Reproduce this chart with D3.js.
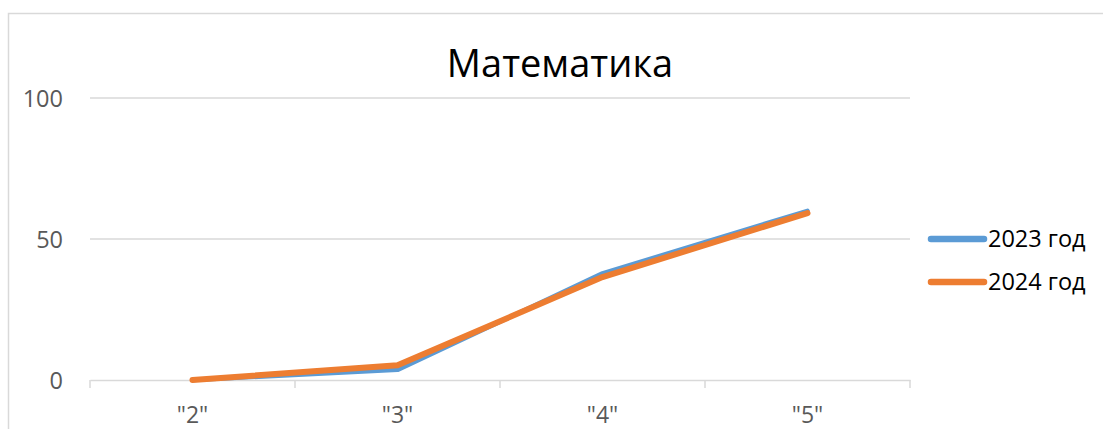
<!DOCTYPE html>
<html>
<head>
  <meta charset="UTF-8">
  <title>Математика</title>
  <script src="https://d3js.org/d3.v7.min.js"></script>
  <style>
    body { margin: 0; background: #fff; }
    svg { display: block; font-family: "Open Sans", "Noto Sans", sans-serif; }
  </style>
</head>
<body>
  <svg></svg>
<script>
  // data
  let categories = ['"2"', '"3"', '"4"', '"5"'];
  let series2023 = [0, 3.6, 37.8, 60];
  let series2024 = [0, 5.2, 36.5, 59.2];
  let seriesNames = ["2023 год", "2024 год"];
  let yTicks = [0, 50, 100];

  let width = 1103,
    height = 429;

  let svg = d3.select("svg")
    .attr("width", width)
    .attr("height", height);

  // chart frame
  svg.append("path")
    .attr("d", "M8.5," + height + "V13.5H" + width)
    .attr("fill", "none")
    .attr("stroke", "#d9d9d9")
    .attr("stroke-width", 1.5);

  let x = d3.scaleBand()
    .domain(categories)
    .range([90, 910]);

  let y = d3.scaleLinear()
    .domain([0, 100])
    .range([380, 98]);

  // gridlines
  svg.append("g")
    .selectAll("line")
    .data(yTicks.filter(d => d > 0))
    .enter()
    .append("line")
    .attr("x1", 90)
    .attr("x2", 910)
    .attr("y1", d => y(d))
    .attr("y2", d => y(d))
    .attr("stroke", "#d9d9d9")
    .attr("stroke-width", 1.5);

  // y labels
  svg.append("g")
    .selectAll("text")
    .data(yTicks)
    .enter()
    .append("text")
    .attr("x", 63)
    .attr("y", d => y(d) + 8.5)
    .attr("text-anchor", "end")
    .attr("fill", "#595959")
    .style("font-size", "23.5px")
    .text(d => d);

  // x axis
  let xAxis = svg.append("g")
    .attr("transform", "translate(0,380)")
    .call(d3.axisBottom(x).tickSize(0).tickPadding(0).tickFormat(""));
  xAxis.select(".domain").attr("stroke", "#d9d9d9").attr("stroke-width", 1.5);

  let boundaries = x.domain().map(d => x(d)).concat([x.range()[1]]);
  svg.append("g")
    .selectAll("line")
    .data(boundaries)
    .enter()
    .append("line")
    .attr("x1", d => d)
    .attr("x2", d => d)
    .attr("y1", 380)
    .attr("y2", 388)
    .attr("stroke", "#d9d9d9")
    .attr("stroke-width", 1.5);

  svg.append("g")
    .selectAll("text")
    .data(categories)
    .enter()
    .append("text")
    .attr("x", d => x(d) + x.bandwidth() / 2)
    .attr("y", 423)
    .attr("text-anchor", "middle")
    .attr("fill", "#595959")
    .style("font-size", "23px")
    .text(d => d);

  // title
  svg.append("text")
    .attr("x", 560)
    .attr("y", 77)
    .attr("text-anchor", "middle")
    .attr("fill", "#000")
    .style("font-size", "38px")
    .text("Математика");

  let line = d3.line()
    .x((d, i) => x(categories[i]) + x.bandwidth() / 2)
    .y(d => y(d));

  let lines = [
    { name: seriesNames[0], values: series2023, color: "#5b9bd5", w: 4.5 },
    { name: seriesNames[1], values: series2024, color: "#ed7d31", w: 6 }
  ];

  svg.append("g")
    .selectAll("path")
    .data(lines)
    .enter()
    .append("path")
    .attr("d", d => line(d.values))
    .attr("fill", "none")
    .attr("stroke", d => d.color)
    .attr("stroke-width", d => d.w)
    .attr("stroke-linecap", "round")
    .attr("stroke-linejoin", "round");

  // legend
  let legend = svg.append("g")
    .selectAll("g")
    .data(lines)
    .enter()
    .append("g")
    .attr("transform", (d, i) => "translate(0," + (239 + i * 43) + ")");

  legend.append("line")
    .attr("x1", 931)
    .attr("x2", 984)
    .attr("stroke", d => d.color)
    .attr("stroke-width", 6.5)
    .attr("stroke-linecap", "round");

  legend.append("text")
    .attr("x", 988)
    .attr("y", 8)
    .attr("fill", "#000")
    .style("font-size", "23.5px")
    .text(d => d.name);
</script>
</body>
</html>
